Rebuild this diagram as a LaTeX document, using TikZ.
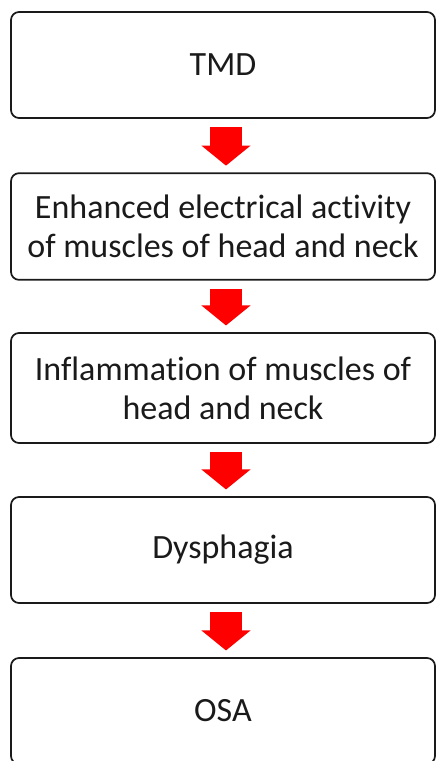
\documentclass[tikz,border=0pt]{standalone}
\usepackage{fontspec}
\setmainfont[Ligatures=NoCommon]{Carlito}
\usetikzlibrary{arrows.meta}
\definecolor{ink}{HTML}{1A1A1A}
\definecolor{arrowred}{HTML}{FF0000}
\tikzset{
  box/.style={draw=ink,line width=1.3pt,rounded corners=6pt,minimum width=318pt,align=center,text=ink,
    font=\fontsize{25.5}{29.5}\selectfont},
  flow/.style={draw=arrowred,line width=24pt,-{Triangle[length=15pt,width=36pt]}}}
\begin{document}
\begin{tikzpicture}[x=0.75pt,y=-0.75pt]
  \useasboundingbox (0,0) rectangle (437,761);
  \node[box,minimum height=79.5pt] (tmd) at (223,65) {TMD};
  \node[box,minimum height=80pt] (elec) at (223,226.5) {Enhanced electrical activity\\of muscles of head and neck};
  \node[box,minimum height=82.5pt] (infl) at (223,388) {Inflammation of muscles of\\head and neck};
  \node[box,minimum height=79.5pt] (dys) at (223,550) {Dysphagia};
  \node[box,minimum height=79.5pt] (osa) at (223,711) {OSA};
  \foreach \a/\b in {tmd/elec,elec/infl,infl/dys,dys/osa}
    {\draw[flow] ([xshift=2.25pt,yshift=-6pt]\a.south) -- ([xshift=2.25pt,yshift=5pt]\b.north);}
\end{tikzpicture}
\end{document}
